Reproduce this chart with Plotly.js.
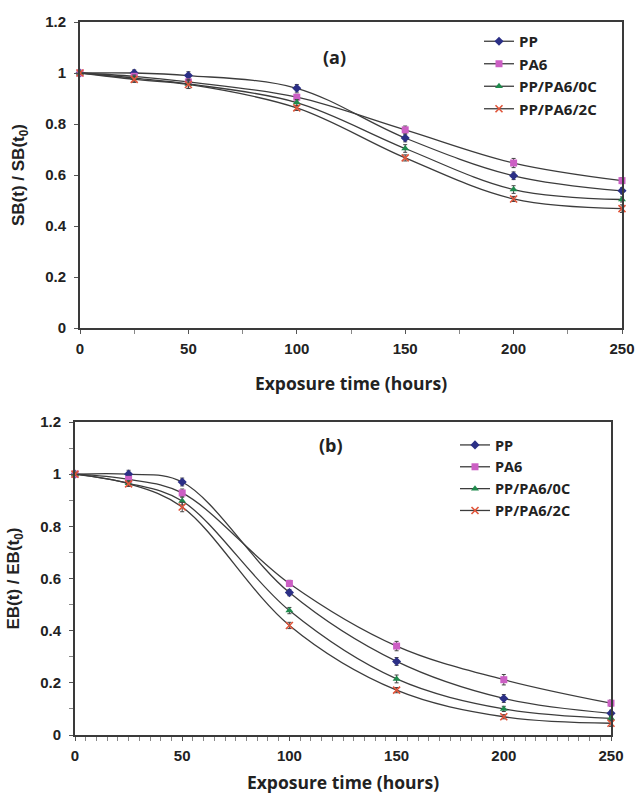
<!DOCTYPE html>
<html>
<head>
<meta charset="utf-8">
<script src="https://cdn.plot.ly/plotly-3.0.1.min.js"></script>
<style>html,body{margin:0;padding:0;background:#fff;}#chart{width:636px;height:794px;}</style>
</head>
<body>
<div id="chart"></div>
<script>
// ---- data ----
const hours = [0, 25, 50, 100, 150, 200, 250];
const seriesNames = ['PP', 'PA6', 'PP/PA6/0C', 'PP/PA6/2C'];

// (a) tensile strength ratio SB(t)/SB(t0)
const sbPP   = [1.00, 1.00, 0.99, 0.94, 0.745, 0.597, 0.538];
const sbPA6  = [1.00, 0.987, 0.965, 0.905, 0.777, 0.647, 0.578];
const sb0C   = [1.00, 0.980, 0.957, 0.884, 0.704, 0.543, 0.504];
const sb2C   = [1.00, 0.975, 0.955, 0.863, 0.667, 0.506, 0.468];
const sbErrPP  = [0.005, 0.012, 0.015, 0.015, 0.015, 0.015, 0.012];
const sbErrPA6 = [0.005, 0.010, 0.012, 0.012, 0.015, 0.018, 0.012];
const sbErr0C  = [0.005, 0.012, 0.018, 0.012, 0.015, 0.015, 0.010];
const sbErr2C  = [0.005, 0.012, 0.015, 0.010, 0.012, 0.010, 0.015];

// (b) elongation at break ratio EB(t)/EB(t0)
const ebPP   = [1.00, 1.00, 0.970, 0.546, 0.282, 0.140, 0.083];
const ebPA6  = [1.00, 0.980, 0.928, 0.581, 0.341, 0.212, 0.122];
const eb0C   = [1.00, 0.965, 0.897, 0.477, 0.215, 0.100, 0.064];
const eb2C   = [1.00, 0.963, 0.874, 0.420, 0.172, 0.070, 0.045];
const ebErrPP  = [0.005, 0.015, 0.015, 0.012, 0.015, 0.015, 0.012];
const ebErrPA6 = [0.005, 0.012, 0.015, 0.012, 0.018, 0.020, 0.012];
const ebErr0C  = [0.005, 0.010, 0.015, 0.012, 0.015, 0.010, 0.010];
const ebErr2C  = [0.005, 0.010, 0.018, 0.012, 0.010, 0.008, 0.012];

const xTicks = [0, 50, 100, 150, 200, 250];

// ---- styles ----
const markerColors = ['#2b2f86', '#cc5fc4', '#1f8a4c', '#e0553a'];
const markerSymbols = ['diamond', 'square', 'triangle-up', 'x-thin-open'];
const markerSizes = [7, 7, 7, 7];
const lineColor = '#3c3c3c';

function makeTrace(y, err, i, xa, ya, legendId) {
  const sym = markerSymbols[i];
  const marker = {color: markerColors[i], size: markerSizes[i], symbol: sym};
  if (sym === 'x-thin-open') marker.line = {color: markerColors[i], width: 1.6};
  else marker.line = {width: 0};
  return {
    x: hours, y: y, name: seriesNames[i], type: 'scatter', mode: 'lines+markers',
    xaxis: xa, yaxis: ya, legend: legendId, cliponaxis: false,
    line: {color: lineColor, width: 1.3, shape: 'spline', smoothing: 1},
    marker: marker,
    error_y: {type: 'data', array: err, visible: true, color: '#444', thickness: 1, width: 2}
  };
}

const data = [
  makeTrace(sbPP, sbErrPP, 0, 'x', 'y', 'legend'),
  makeTrace(sbPA6, sbErrPA6, 1, 'x', 'y', 'legend'),
  makeTrace(sb0C, sbErr0C, 2, 'x', 'y', 'legend'),
  makeTrace(sb2C, sbErr2C, 3, 'x', 'y', 'legend'),
  makeTrace(ebPP, ebErrPP, 0, 'x2', 'y2', 'legend2'),
  makeTrace(ebPA6, ebErrPA6, 1, 'x2', 'y2', 'legend2'),
  makeTrace(eb0C, ebErr0C, 2, 'x2', 'y2', 'legend2'),
  makeTrace(eb2C, ebErr2C, 3, 'x2', 'y2', 'legend2')
];

const W = 636, H = 794;
const tickFont = {family: 'Liberation Sans, Arial, sans-serif', size: 15, color: '#222', weight: 'bold'};
const xTitleFont = {family: 'Open Sans, sans-serif', size: 17.5, color: '#222', weight: 'bold'};
const yTitleFont = {family: 'Liberation Sans, Arial, sans-serif', size: 17, color: '#222', weight: 'bold'};

function xAxis(domain, anchor, minorDtick, standoff) {
  return {
    domain: domain, anchor: anchor, range: [0, 250], tickvals: xTicks,
    showgrid: false, zeroline: false, showline: true, mirror: true,
    linecolor: '#3a3a3a', linewidth: 2, ticks: 'outside', ticklen: 4, tickcolor: '#555', tickwidth: 1,
    tickfont: tickFont, fixedrange: true, ticklabelstandoff: 2,
    minor: {dtick: minorDtick, ticks: 'outside', ticklen: 4, tickcolor: '#888', tickwidth: 1, showgrid: false},
    title: {text: 'Exposure time (hours)', font: xTitleFont, standoff: standoff}
  };
}
function yAxis(domain, anchor, titleText, minorDtick) {
  const ax = {
    domain: domain, anchor: anchor, range: [0, 1.2], dtick: 0.2,
    showgrid: false, zeroline: false, showline: true, mirror: true,
    linecolor: '#3a3a3a', linewidth: 2, ticks: 'outside', ticklen: 4, tickcolor: '#555', tickwidth: 1,
    tickfont: tickFont, fixedrange: true, ticklabelstandoff: 5,
    title: {text: titleText, font: yTitleFont, standoff: 16}
  };
  if (minorDtick) ax.minor = {dtick: minorDtick, ticks: 'outside', ticklen: 4, tickcolor: '#888', tickwidth: 1, showgrid: false};
  return ax;
}

const layout = {
  width: W, height: H,
  margin: {l: 0, r: 0, t: 0, b: 0},
  paper_bgcolor: '#fff', plot_bgcolor: '#fff',
  showlegend: true,
  xaxis: xAxis([80 / W, 622 / W], 'y', 25, 22),
  yaxis: yAxis([1 - 328 / H, 1 - 22 / H], 'x', 'SB(t) / SB(t<sub>0</sub>)', null),
  xaxis2: xAxis([75 / W, 611 / W], 'y2', 5, 17),
  yaxis2: yAxis([1 - 735 / H, 1 - 422 / H], 'x2', 'EB(t) / EB(t<sub>0</sub>)', 0.1),
  legend: {x: 479 / W, y: 1 - 25 / H, xanchor: 'left', yanchor: 'top', bgcolor: 'rgba(0,0,0,0)',
           font: {family: 'Open Sans, sans-serif', size: 15, color: '#222', weight: 'bold'},
           itemwidth: 30, tracegroupgap: 0},
  legend2: {x: 455 / W, y: 1 - 429 / H, xanchor: 'left', yanchor: 'top', bgcolor: 'rgba(0,0,0,0)',
            font: {family: 'Open Sans, sans-serif', size: 14.5, color: '#222', weight: 'bold'},
            itemwidth: 30, tracegroupgap: 0},
  annotations: [
    {text: '(a)', xref: 'paper', yref: 'paper', x: 334 / W, y: 1 - 43 / H, showarrow: false,
     font: {family: 'Open Sans, sans-serif', size: 18, color: '#222', weight: 'bold'}},
    {text: '(b)', xref: 'paper', yref: 'paper', x: 331 / W, y: 1 - 445 / H, showarrow: false,
     font: {family: 'Open Sans, sans-serif', size: 18, color: '#222', weight: 'bold'}}
  ]
};

Plotly.newPlot('chart', data, layout, {displayModeBar: false, staticPlot: true});
</script>
</body>
</html>
